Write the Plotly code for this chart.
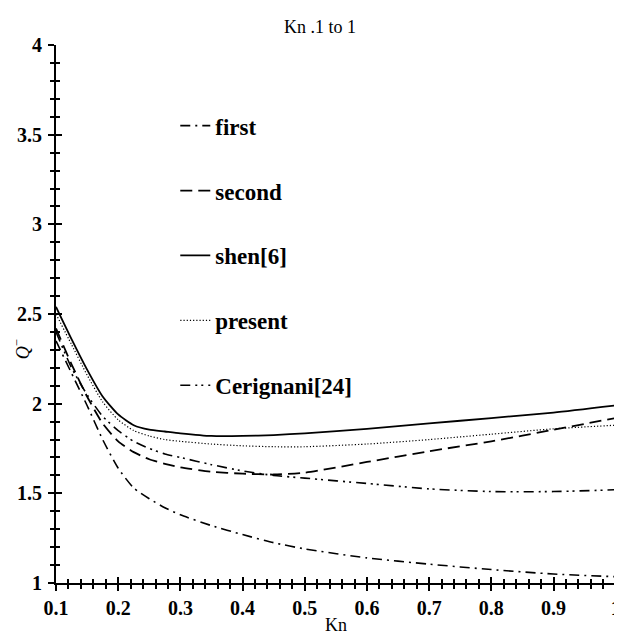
import plotly.graph_objects as go

kn = [0.1, 0.125, 0.15, 0.175, 0.2, 0.225, 0.25, 0.275, 0.3, 0.35, 0.4, 0.45, 0.5, 0.6, 0.7, 0.8, 0.9, 1.0]
first = [2.35, 2.17, 1.99, 1.80, 1.64, 1.53, 1.47, 1.42, 1.38, 1.32, 1.27, 1.225, 1.19, 1.14, 1.105, 1.075, 1.05, 1.035]
second = [2.42, 2.22, 2.04, 1.89, 1.79, 1.73, 1.69, 1.665, 1.645, 1.62, 1.61, 1.605, 1.615, 1.675, 1.735, 1.79, 1.855, 1.92]
shen = [2.54, 2.36, 2.19, 2.04, 1.94, 1.88, 1.855, 1.845, 1.835, 1.82, 1.82, 1.825, 1.835, 1.86, 1.89, 1.92, 1.95, 1.99]
present = [2.50, 2.33, 2.16, 2.01, 1.91, 1.85, 1.82, 1.80, 1.79, 1.775, 1.765, 1.76, 1.76, 1.775, 1.80, 1.83, 1.86, 1.88]
cerignani = [2.40, 2.20, 2.05, 1.93, 1.85, 1.79, 1.75, 1.72, 1.70, 1.66, 1.625, 1.60, 1.585, 1.555, 1.525, 1.51, 1.51, 1.52]

names = ["first", "second", "shen[6]", "present", "Cerignani[24]"]
series = [first, second, shen, present, cerignani]
dashes = ["10px,5px,2px,5px", "12px,6px", "solid", "1.2px,2px", "10px,5px,2px,4px,2px,5px"]
widths = [1.6, 1.8, 1.8, 1.2, 1.6]

xticks = [0.1, 0.2, 0.3, 0.4, 0.5, 0.6, 0.7, 0.8, 0.9, 1.0]
xticklabels = ["0.1", "0.2", "0.3", "0.4", "0.5", "0.6", "0.7", "0.8", "0.9", "1"]
yticks = [1, 1.5, 2, 2.5, 3, 3.5, 4]
yticklabels = ["1", "1.5", "2", "2.5", "3", "3.5", "4"]

SERIF = "Liberation Serif, Times New Roman, serif"
XR = [0.1, 1.0005]
YR = [1, 4.0005]

fig = go.Figure()
for i, (n, s) in enumerate(zip(names, series)):
    fig.add_trace(go.Scatter(
        x=kn, y=s, mode="lines", name=n, legendgroup=n,
        line=dict(color="black", width=widths[i], dash=dashes[i], shape="spline", smoothing=0.6),
    ))

# invisible trace on overlay axes used for inside ticks (cross ticks)
fig.add_trace(go.Scatter(x=[kn[0]], y=[yticks[0]], xaxis="x2", yaxis="y2",
                         mode="markers", marker=dict(opacity=0), showlegend=False, hoverinfo="skip"))

axis_common = dict(showgrid=False, zeroline=False, showline=True, linecolor="black", linewidth=2,
                   automargin=False, ticklabeloverflow="allow")

# the page body adds an 8px offset, so the figure is 8px smaller than the window
fig.update_layout(
    width=614, height=629,
    margin=dict(l=48, r=6, t=37, b=54),
    paper_bgcolor="white", plot_bgcolor="white",
    title=dict(text="Kn .1 to 1", x=0.508, xanchor="center", y=0.970, yanchor="middle",
               font=dict(family=SERIF, size=18, color="black")),
    font=dict(family=SERIF, color="black"),
    xaxis=dict(range=XR, tickvals=xticks, ticktext=xticklabels,
               ticks="outside", ticklen=6, tickwidth=2, tickcolor="black",
               minor=dict(dtick=0.02, tick0=0.1, ticks="outside", ticklen=4, tickwidth=1.5, tickcolor="black"),
               tickfont=dict(family=SERIF, size=20, color="black", weight="bold"),
               title=dict(text="Kn", font=dict(family=SERIF, size=18, color="black"), standoff=0),
               **axis_common),
    yaxis=dict(range=YR, tickvals=yticks, ticktext=yticklabels,
               ticks="outside", ticklen=6, tickwidth=2, tickcolor="black",
               minor=dict(dtick=0.1, tick0=1, ticks="outside", ticklen=4, tickwidth=1.5, tickcolor="black"),
               tickfont=dict(family=SERIF, size=20, color="black", weight="bold"),
               ticklabelstandoff=2,
               **axis_common),
    xaxis2=dict(range=XR, overlaying="x", anchor="y", side="bottom", tickvals=xticks,
                showticklabels=False, ticks="inside", ticklen=6, tickwidth=2, tickcolor="black",
                minor=dict(dtick=0.02, tick0=0.1, ticks="inside", ticklen=4, tickwidth=1.5, tickcolor="black"),
                showgrid=False, zeroline=False, showline=False, automargin=False),
    yaxis2=dict(range=YR, overlaying="y", anchor="x", side="left", tickvals=yticks,
                showticklabels=False, ticks="inside", ticklen=6, tickwidth=2, tickcolor="black",
                minor=dict(dtick=0.1, tick0=1, ticks="inside", ticklen=4, tickwidth=1.5, tickcolor="black"),
                showgrid=False, zeroline=False, showline=False, automargin=False),
    legend=dict(x=0.213, y=0.890, xanchor="left", yanchor="top", bgcolor="rgba(0,0,0,0)",
                tracegroupgap=32, itemwidth=30,
                font=dict(family=SERIF, size=23, color="black", weight="bold")),
    showlegend=True,
    annotations=[dict(text="<i>Q</i><sup>−</sup>", xref="paper", yref="paper",
                      x=-0.06, y=0.435, xanchor="center", yanchor="middle", showarrow=False,
                      textangle=-90, font=dict(family=SERIF, size=18, color="black"))],
)

fig.write_html("out.html")
